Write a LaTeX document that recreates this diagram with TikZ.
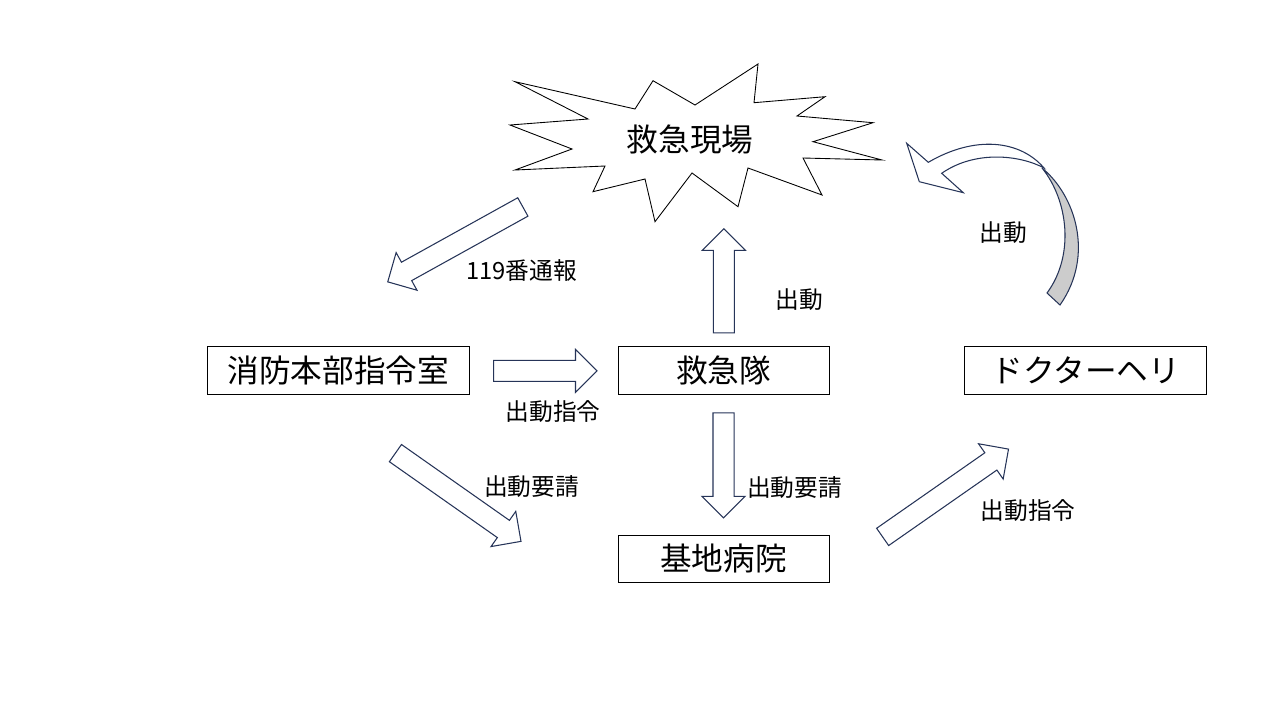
\documentclass[tikz,border=0pt]{standalone}
\usepackage{fontspec}
\setmainfont{Noto Sans CJK JP}
\usetikzlibrary{positioning,shapes.arrows}
\definecolor{arrowline}{RGB}{38,52,88}
\tikzset{
    station/.style={rectangle,draw,thin,minimum width=#1,minimum height=9.5mm,inner sep=0pt,font=\fontsize{18}{20}\selectfont},
    station/.default=4.22cm,
    flow/.style={single arrow,draw=arrowline,line width=0.6pt,fill=white,inner xsep=0pt,inner ysep=2mm,single arrow head extend=2.2mm,anchor=tail,minimum height=#1},
    note/.style={inner sep=0pt,font=\fontsize{13.5}{16}\selectfont},
    burst/.style={draw,line width=0.5pt,fill=white}
}

\begin{document}
\begin{tikzpicture}[x=0.02cm,y=-0.02cm]

                \useasboundingbox (0,0) rectangle (1280,720);

                \draw[burst] (515,81.7) -- (635,109) -- (653,80.7) -- (695,105) -- (758,64) -- (754,102.7)
                    -- (825,96.7) -- (797,116) -- (873,122.7) -- (813,141.7) -- (882,160) -- (803,158)
                    -- (822,195) -- (748,168) -- (738,206.7) -- (692,173) -- (655,221.7) -- (645,179)
                    -- (593,191.7) -- (605,166) -- (515,170) -- (572,149) -- (510,125) -- (588,119) -- cycle;
                \node         (scene)    [font=\fontsize{18}{20}\selectfont] at (690,140)       {救急現場};

                \node[station]          (team)     at (723.5,370.5)                          {救急隊};
                \node[station=5.24cm]   (command)  [left=2.96cm of team]                     {消防本部指令室};
                \node[station=4.84cm]   (heli)     [right=2.7cm of team]                     {ドクターヘリ};
                \node[station]          (hospital) [below=2.8cm of team]                     {基地病院};

                \node[flow=3.09cm,rotate=209]   (call)     at (523.3,206.7)  {};
                \node[flow=2.07cm]              (order)    at (493,370.8)    {};
                \node[flow=2.08cm,rotate=90]    (go)       at (723.8,333.3)  {};
                \node[flow=2.1cm,rotate=270]    (request)  at (723.5,412.3)  {};
                \node[flow=3.07cm,rotate=-35.1] (ask)      at (395,452.8)    {};
                \node[flow=3.07cm,rotate=34.9]  (dispatch) at (882.2,537.2)  {};

                % curved arrow of the helicopter
                \draw[arrowline,line width=0.6pt,fill=gray!40] (1042,168) .. controls (1075,195) and (1095,255) .. (1060,305)
                    -- (1047,293) .. controls (1075,255) and (1068,200) .. (1042,168) -- cycle;
                \draw[arrowline,line width=0.6pt,fill=white] (941.7,173.3) -- (963.3,192.7) -- (919.3,181.7) -- (906.7,143.3)
                    -- (928.3,162.3) .. controls (975,135) and (1020,140) .. (1044,168)
                    .. controls (1020,155) and (975,150) .. (941.7,173.3) -- cycle;

                \node[note] (call label)     at (521.5,271) {119番通報};
                \node[note] (order label)    at (553,412)   {出動指令};
                \node[note] (go label)       at (799,300)   {出動};
                \node[note] (heli label)     at (1003,233)  {出動};
                \node[note] (ask label)      at (531.5,487) {出動要請};
                \node[note] (request label)  at (794.5,488) {出動要請};
                \node[note] (dispatch label) at (1028,511)  {出動指令};

            \end{tikzpicture}
\end{document}
